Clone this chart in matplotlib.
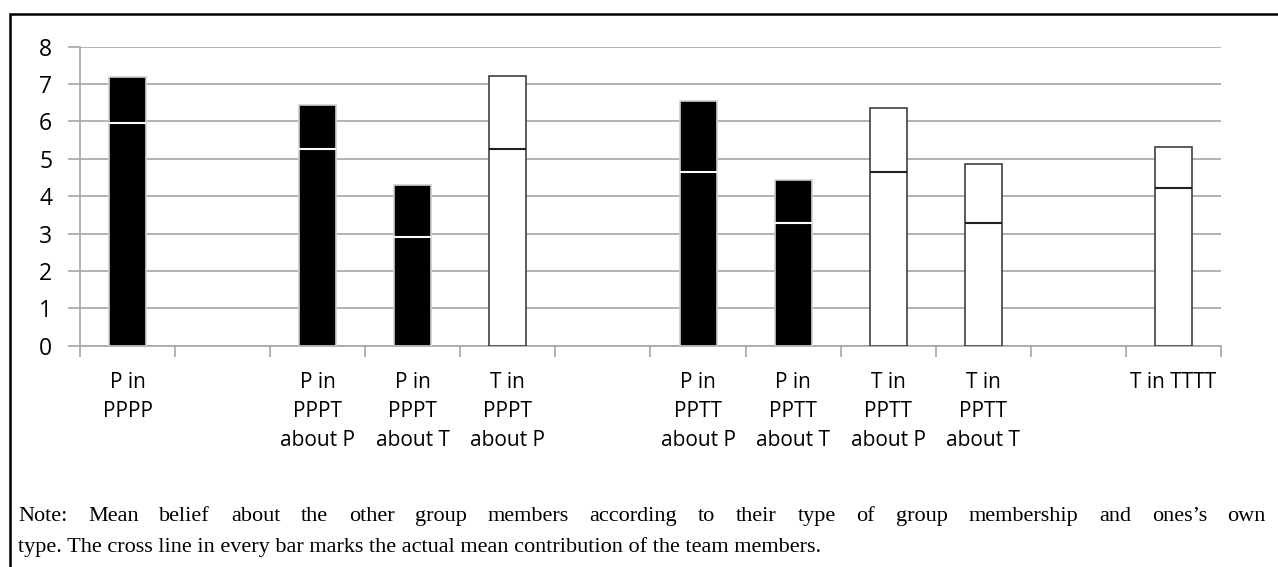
import numpy as np
import matplotlib
matplotlib.use("Agg")
import matplotlib.pyplot as plt
from matplotlib.patches import Rectangle

# chart data (empty slots are gaps between group compositions)
categories = ["P in\nPPPP", "", "P in\nPPPT\nabout P", "P in\nPPPT\nabout T",
              "T in\nPPPT\nabout P", "", "P in\nPPTT\nabout P", "P in\nPPTT\nabout T",
              "T in\nPPTT\nabout P", "T in\nPPTT\nabout T", "", "T in TTTT"]
own_type = ["P", "", "P", "P", "T", "", "P", "P", "T", "T", "", "T"]
belief = [7.19, np.nan, 6.43, 4.30, 7.22, np.nan, 6.55, 4.43, 6.35, 4.85, np.nan, 5.31]
actual = [5.96, np.nan, 5.26, 2.92, 5.26, np.nan, 4.65, 3.29, 4.65, 3.29, np.nan, 4.22]
yticks = [0, 1, 2, 3, 4, 5, 6, 7, 8]

note_line1 = "Note: Mean belief about the other group members according to their type of group membership and ones\u2019s own"
note_line2 = "type. The cross line in every bar marks the actual mean contribution of the team members."

W, H = 1278, 567
fig = plt.figure(figsize=(W / 100, H / 100), dpi=100)
ax = fig.add_axes([80 / W, 1 - 345.7 / H, (1221 - 80) / W, (345.7 - 46.7) / H])

grid_c = '#a6a6a6'
label_font = 'Open Sans'

x = np.arange(len(categories))
bw = 0.39
fills = ['black' if t == 'P' else 'white' for t in own_type]
edges = ['#d0d0d0' if t == 'P' else '#404040' for t in own_type]
ax.bar(x, belief, width=bw, color=fills, edgecolor=edges, linewidth=1.2, zorder=3)

# cross lines: actual mean contribution
for xi, a, t in zip(x, actual, own_type):
    if np.isnan(a):
        continue
    ax.hlines(a, xi - bw / 2, xi + bw / 2, colors='white' if t == 'P' else '#202020',
              linewidth=1.5, zorder=4)

ax.set_xlim(-0.5, len(categories) - 0.5)
ax.set_ylim(0, 8)
ax.set_yticks(yticks)
ax.yaxis.grid(True, color=grid_c, linewidth=1.2)
ax.set_axisbelow(True)

for s in ['top', 'right']:
    ax.spines[s].set_visible(False)
for s in ['left', 'bottom']:
    ax.spines[s].set_color(grid_c)
    ax.spines[s].set_linewidth(1.2)

ax.set_xticks(x)
ax.set_xticklabels(categories, fontfamily=label_font, fontsize=15, linespacing=1.5)
ax.set_xticks(np.arange(-0.5, len(categories)), minor=True)
ax.tick_params(axis='x', which='major', length=0, pad=19)
ax.tick_params(axis='x', which='minor', length=8, color=grid_c, width=1.2)
ax.tick_params(axis='y', length=9, color=grid_c, width=1.2, pad=11,
               labelsize=16.5)
for lbl in ax.get_yticklabels():
    lbl.set_fontfamily(label_font)

# outer frame (only top and left edges fall inside the image)
fig.add_artist(Rectangle((10 / W, -0.1), 1.2, 1 - 14 / H + 0.1, transform=fig.transFigure,
                         fill=False, edgecolor='black', linewidth=1.8))

# note, first line justified to full width
renderer = fig.canvas.get_renderer()
note_kw = dict(fontfamily='Liberation Serif', fontsize=16, va='baseline', ha='left')
words = note_line1.split(' ')
widths = []
for w in words:
    t = fig.text(0, 0, w, **note_kw)
    widths.append(t.get_window_extent(renderer).width)
    t.remove()
left, right = 18, 1266
gap = (right - left - sum(widths)) / (len(words) - 1)
xpos = left
for w, wd in zip(words, widths):
    fig.text(xpos / W, 1 - 521 / H, w, **note_kw)
    xpos += wd + gap
fig.text(left / W, 1 - 552 / H, note_line2, **note_kw)

fig.savefig('out.png', dpi=100, facecolor='white')
